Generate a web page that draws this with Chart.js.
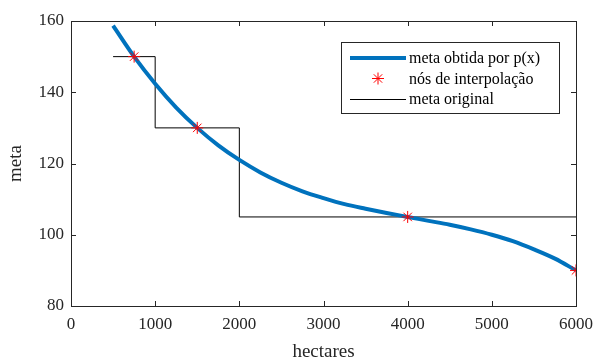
<!DOCTYPE html>
<html>
<head>
<meta charset="utf-8">
<script src="https://cdn.jsdelivr.net/npm/chart.js@4"></script>
<style>
  html, body { margin: 0; padding: 0; background: #fff; }
  #wrap { width: 601px; height: 363px; }
</style>
</head>
<body>
<div id="wrap"><canvas id="c" width="601" height="363"></canvas></div>
<script>
// curve p(x) (hectares -> meta)
const curveX = [500, 750, 1000, 1250, 1500, 1750, 2000, 2250, 2500, 2750, 3000, 3250, 3500, 3750, 4000, 4250, 4500, 4750, 5000, 5250, 5500, 5750, 6000];
const curveY = [158.7, 150, 142.4, 135.7, 130, 125.1, 121.0, 117.5, 114.6, 112.2, 110.3, 108.6, 107.3, 106.1, 105, 103.9, 102.8, 101.5, 100.0, 98.2, 95.9, 93.3, 90];

// interpolation nodes
const nodeX = [750, 1500, 4000, 6000];
const nodeY = [150, 130, 105, 90];

// original goal (step)
const stepX = [500, 1000, 2000, 6000];
const stepY = [150, 130, 105, 105];

const xTicks = [0, 1000, 2000, 3000, 4000, 5000, 6000];
const yTicks = [80, 100, 120, 140, 160];

const legendLabels = ['meta obtida por p(x)', 'nós de interpolação', 'meta original'];

const toPoints = (xs, ys) => xs.map((x, i) => ({ x: x, y: ys[i] }));

const SERIF = '"Liberation Serif", "DejaVu Serif", serif';
const AXIS_COLOR = '#262626';

// inward ticks on all four sides + full box (matlab style)
const boxTicks = {
    id: 'boxTicks',
    afterDatasetsDraw(chart) {
        const { ctx, chartArea: a, scales } = chart;
        ctx.save();
        ctx.strokeStyle = AXIS_COLOR;
        ctx.lineWidth = 1;
        const len = 5;
        ctx.beginPath();
        xTicks.forEach(t => {
            const px = Math.round(scales.x.getPixelForValue(t)) + 0.5;
            ctx.moveTo(px, a.bottom); ctx.lineTo(px, a.bottom - len);
            ctx.moveTo(px, a.top); ctx.lineTo(px, a.top + len);
        });
        yTicks.forEach(t => {
            const py = Math.round(scales.y.getPixelForValue(t)) + 0.5;
            ctx.moveTo(a.left, py); ctx.lineTo(a.left + len, py);
            ctx.moveTo(a.right, py); ctx.lineTo(a.right - len, py);
        });
        ctx.stroke();
        ctx.strokeRect(Math.round(a.left) + 0.5, Math.round(a.top) + 0.5,
            Math.round(a.right - a.left), Math.round(a.bottom - a.top));
        ctx.restore();
    }
};

// legend box in the upper right of the axes
const boxLegend = {
    id: 'boxLegend',
    afterDraw(chart) {
        const { ctx, chartArea: a } = chart;
        const bx = a.right - 235, by = a.top + 21, bw = 218, bh = 71;
        ctx.save();
        ctx.fillStyle = '#fff';
        ctx.fillRect(bx, by, bw, bh);
        ctx.strokeStyle = '#262626';
        ctx.lineWidth = 1;
        ctx.strokeRect(bx + 0.5, by + 0.5, bw, bh);

        const rows = [by + 16, by + 36.5, by + 57];
        const x0 = bx + 9, x1 = bx + 65;
        // curve sample
        ctx.strokeStyle = '#0072BD';
        ctx.lineWidth = 4;
        ctx.beginPath(); ctx.moveTo(x0, rows[0]); ctx.lineTo(x1, rows[0]); ctx.stroke();
        // asterisk sample
        const cx = (x0 + x1) / 2, cy = rows[1], r = 6;
        ctx.strokeStyle = '#ff0000';
        ctx.lineWidth = 1;
        ctx.beginPath();
        ctx.moveTo(cx - r, cy); ctx.lineTo(cx + r, cy);
        ctx.moveTo(cx, cy - r); ctx.lineTo(cx, cy + r);
        const d = r * 0.7;
        ctx.moveTo(cx - d, cy - d); ctx.lineTo(cx + d, cy + d);
        ctx.moveTo(cx - d, cy + d); ctx.lineTo(cx + d, cy - d);
        ctx.stroke();
        // step sample
        ctx.strokeStyle = '#000';
        ctx.lineWidth = 1;
        ctx.beginPath(); ctx.moveTo(x0, Math.round(rows[2]) + 0.5); ctx.lineTo(x1, Math.round(rows[2]) + 0.5); ctx.stroke();

        ctx.fillStyle = '#000';
        ctx.font = '16px ' + SERIF;
        ctx.textBaseline = 'middle';
        ctx.textAlign = 'left';
        legendLabels.forEach((t, i) => ctx.fillText(t, x1 + 3, rows[i] + 1));
        ctx.restore();
    }
};

new Chart(document.getElementById('c'), {
    type: 'scatter',
    data: {
        datasets: [
            {
                label: legendLabels[0],
                data: toPoints(curveX, curveY),
                showLine: true,
                borderColor: '#0072BD',
                borderWidth: 4,
                pointRadius: 0,
                cubicInterpolationMode: 'monotone',
                order: 1
            },
            {
                label: legendLabels[1],
                data: toPoints(nodeX, nodeY),
                showLine: false,
                pointStyle: 'star',
                pointRadius: 6,
                borderColor: '#ff0000',
                backgroundColor: '#ff0000',
                borderWidth: 1,
                order: 0
            },
            {
                label: legendLabels[2],
                data: toPoints(stepX, stepY),
                showLine: true,
                stepped: 'before',
                borderColor: '#000000',
                borderWidth: 1,
                pointRadius: 0,
                order: 2
            }
        ]
    },
    options: {
        responsive: false,
        animation: false,
        layout: { padding: { top: 21, right: 17, left: 0, bottom: 0 } },
        plugins: {
            legend: { display: false },
            tooltip: { enabled: false }
        },
        scales: {
            x: {
                type: 'linear',
                min: 0, max: 6000,
                afterBuildTicks: s => { s.ticks = xTicks.map(v => ({ value: v })); },
                grid: { display: false, drawTicks: false },
                border: { display: false },
                ticks: { color: AXIS_COLOR, font: { family: SERIF, size: 17 }, padding: 8, maxRotation: 0, callback: v => String(v) },
                title: { display: true, text: 'hectares', color: AXIS_COLOR, font: { family: SERIF, size: 19 }, padding: { top: 0, bottom: 0 } },
                afterFit: s => { s.height = 57; }
            },
            y: {
                type: 'linear',
                min: 80, max: 160,
                afterBuildTicks: s => { s.ticks = yTicks.map(v => ({ value: v })); },
                grid: { display: false, drawTicks: false },
                border: { display: false },
                ticks: { color: AXIS_COLOR, font: { family: SERIF, size: 17 }, padding: 7, callback: v => String(v) },
                title: { display: true, text: 'meta', color: AXIS_COLOR, font: { family: SERIF, size: 19 }, padding: { top: 5, bottom: 0 } },
                afterFit: s => { s.width = 71; }
            }
        }
    },
    plugins: [boxTicks, boxLegend]
});
</script>
</body>
</html>
